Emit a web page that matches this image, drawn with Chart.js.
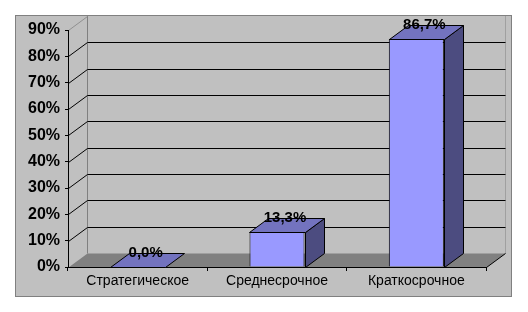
<!DOCTYPE html>
<html>
<head>
<meta charset="utf-8">
<script src="https://cdn.jsdelivr.net/npm/chart.js@4.4.1/dist/chart.umd.min.js"></script>
<style>
  html, body { margin: 0; padding: 0; background: #ffffff; }
  #wrap { width: 528px; height: 312px; position: relative; }
</style>
</head>
<body>
<div id="wrap"><canvas id="chart"></canvas></div>
<script>
// data
const categories = ['Стратегическое', 'Среднесрочное', 'Краткосрочное'];
const shares = [0.0, 13.3, 86.7];
const yMax = 90;
const yStep = 10;

// 3d depth of the plot (pixels)
const DX = 19;
const DY = 14;
const FONT = '"Liberation Sans", Arial, sans-serif';

const colFront = '#9999FF';
const colTop = '#7373BF';
const colSide = '#4C4C80';

function fmtPct(v) {
    return v.toFixed(1).replace('.', ',') + '%';
}

function line(ctx, x1, y1, x2, y2, color) {
    ctx.strokeStyle = color;
    ctx.lineWidth = 1;
    ctx.beginPath();
    ctx.moveTo(x1, y1);
    ctx.lineTo(x2, y2);
    ctx.stroke();
}

function poly(ctx, pts, fill) {
    ctx.beginPath();
    ctx.moveTo(pts[0][0], pts[0][1]);
    for (let i = 1; i < pts.length; i++) ctx.lineTo(pts[i][0], pts[i][1]);
    ctx.closePath();
    ctx.fillStyle = fill;
    ctx.fill();
    ctx.strokeStyle = '#000000';
    ctx.lineWidth = 1;
    ctx.stroke();
}

const wallsPlugin = {
    id: 'walls',
    beforeDraw(chart) {
        const ctx = chart.ctx;
        const a = chart.chartArea;
        const yScale = chart.scales.y;
        ctx.save();
        ctx.fillStyle = '#ffffff';
        ctx.fillRect(0, 0, chart.width, chart.height);
        // outer chart box
        ctx.fillStyle = '#C0C0C0';
        ctx.fillRect(15, 15, 497, 282);
        ctx.strokeStyle = '#808080';
        ctx.lineWidth = 1;
        ctx.strokeRect(15.5, 15.5, 496, 281);

        const left = Math.round(a.left) + 0.5;
        const right = Math.round(a.right) + 0.5;
        const bottom = Math.round(a.bottom) + 0.5;

        // back wall edges
        line(ctx, left + DX, yScale.getPixelForValue(yMax) - DY, left + DX, bottom - DY, '#808080');
        line(ctx, right + DX, yScale.getPixelForValue(yMax) - DY, right + DX, bottom - DY, '#A0A0A0');

        // floor
        ctx.beginPath();
        ctx.moveTo(left, bottom);
        ctx.lineTo(right, bottom);
        ctx.lineTo(right + DX, bottom - DY);
        ctx.lineTo(left + DX, bottom - DY);
        ctx.closePath();
        ctx.fillStyle = '#808080';
        ctx.fill();
        line(ctx, right, bottom, right + DX, bottom - DY, '#000000');

        // gridlines on back and side walls
        for (let v = yStep; v <= yMax; v += yStep) {
            const y = Math.round(yScale.getPixelForValue(v)) + 0.5;
            if (v < yMax) {
                line(ctx, left, y, left + DX, y - DY, '#000000');
                line(ctx, left + DX, y - DY, right + DX, y - DY, '#000000');
            } else {
                line(ctx, left, y, left + DX, y - DY, '#909090');
            }
        }
        ctx.restore();
    },
    afterDatasetsDraw(chart) {
        const ctx = chart.ctx;
        const meta = chart.getDatasetMeta(0);
        ctx.save();
        meta.data.forEach((bar, i) => {
            const x0 = Math.round(bar.x - bar.width / 2) + 0.5;
            const x1 = Math.round(bar.x + bar.width / 2) + 0.5;
            const yt = Math.round(bar.y) + 0.5;
            const yb = Math.round(bar.base) + 0.5;
            // side face
            if (yb - yt > 0.5) {
                poly(ctx, [[x1, yt], [x1 + DX, yt - DY], [x1 + DX, yb - DY], [x1, yb]], colSide);
            }
            // top face
            poly(ctx, [[x0, yt], [x1, yt], [x1 + DX, yt - DY], [x0 + DX, yt - DY]], colTop);
            // value label
            ctx.fillStyle = '#000000';
            ctx.font = 'bold 15px ' + FONT;
            ctx.textAlign = 'center';
            ctx.textBaseline = 'middle';
            ctx.fillText(fmtPct(shares[i]), bar.x + 8, bar.y - 14);
        });
        ctx.restore();
    }
};

const chart = new Chart(document.getElementById('chart'), {
    type: 'bar',
    data: {
        labels: categories,
        datasets: [{
            data: shares,
            backgroundColor: colFront,
            borderColor: '#000000',
            borderWidth: 1,
            categoryPercentage: 1,
            barPercentage: 0.395
        }]
    },
    options: {
        responsive: true,
        maintainAspectRatio: false,
        animation: false,
        events: [],
        layout: { padding: { top: 30, right: 42, bottom: 16, left: 0 } },
        plugins: {
            legend: { display: false },
            tooltip: { enabled: false }
        },
        scales: {
            x: {
                offset: true,
                grid: { offset: true, drawOnChartArea: false, drawTicks: true, tickLength: 4, color: '#000000' },
                border: { display: true, color: '#000000' },
                ticks: { color: '#000000', padding: 2, font: { family: FONT, size: 14 } },
                afterFit: (scale) => { scale.height = 29; }
            },
            y: {
                min: 0,
                max: yMax,
                ticks: {
                    stepSize: yStep,
                    color: '#000000',
                    padding: 5,
                    font: { family: FONT, size: 16, weight: 'bold' },
                    callback: (v) => v + '%'
                },
                grid: { drawOnChartArea: false, drawTicks: true, tickLength: 3, color: '#000000' },
                border: { display: true, color: '#000000' },
                afterFit: (scale) => { scale.width = 68; }
            }
        }
    },
    plugins: [wallsPlugin]
});
</script>
</body>
</html>
